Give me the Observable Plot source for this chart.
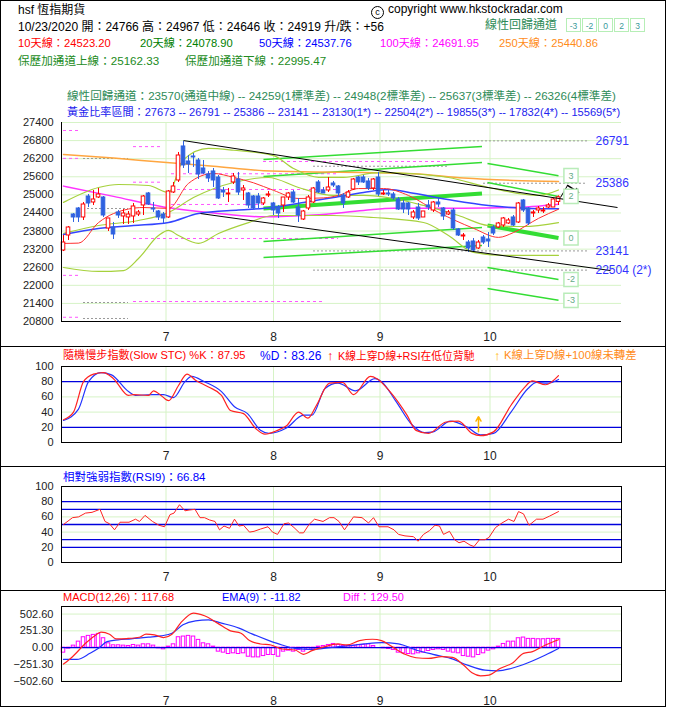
<!DOCTYPE html>
<html><head><meta charset="utf-8">
<script src="https://cdn.jsdelivr.net/npm/d3@7"></script>
<script src="https://cdn.jsdelivr.net/npm/@observablehq/plot@0.6"></script>
<style>
body{margin:0;background:#fff;}
#wrap{position:relative;width:677px;height:717px;overflow:hidden;background:#fff;font-family:"Liberation Sans","Noto Sans CJK TC",sans-serif;}
.t{position:absolute;white-space:nowrap;line-height:1.2;}
.hl{position:absolute;background:#000;}
svg{position:absolute;left:0;}
</style></head><body><div id="wrap"></div>
<script>
// ---------------- DATA ----------------
const headerTitle = "hsf 恆指期貨";
const headerQuote = "10/23/2020 開：24766 高：24967 低：24646 收：24919 升/跌：+56";
const maLabels = ["10天線：24523.20","20天線：24078.90","50天線：24537.76","100天線：24691.95","250天線：25440.86"];
const bollLabels = ["保歷加通道上線：25162.33","保歷加通道下線：22995.47"];
const regText = "線性回歸通道：23570(通道中線) -- 24259(1標準差) -- 24948(2標準差) -- 25637(3標準差) -- 26326(4標準差)";
const goldText = "黃金比率區間：27673 -- 26791 -- 25386 -- 23141 -- 23130(1*) -- 22504(2*) -- 19855(3*) -- 17832(4*) -- 15569(5*)";
const stochLabels = ["隨機慢步指數(Slow STC) %K：87.95","%D：83.26","K線上穿D線+RSI在低位背馳","K線上穿D線+100線未轉差"];
const rsiLabel = "相對強弱指數(RSI9)：66.84";
const macdLabels = ["MACD(12,26)：117.68","EMA(9)：-11.82","Diff：129.50"];
const channelKeys = ["-3","-2","0","2","3"];

const monthTickIdx = [20.5, 42, 63.3, 85.3];
const monthLabels = ["7","8","9","10"];
const mainYTicks = [20800,21400,22000,22600,23200,23800,24400,25000,25600,26200,26800,27400];

const open = [23155,23653,24349,24548,24250,24946,24747,24913,24913,23885,
23918,24416,24283,24250,24283,24349,24648,25046,24548,24449,
24349,24250,25079,25477,26605,26107,26273,26140,25875,25676,
25776,25576,25145,25013,25411,25510,25145,25046,24946,24946,
24714,24979,24714,24581,24648,24913,25079,24581,24183,24548,
24747,25411,25145,25145,25377,25278,24979,24913,25178,25576,
25576,25444,25212,25576,25013,25046,25013,24847,24714,24714,
24250,24581,24250,24648,24482,24747,24548,24349,24482,23852,
23619,23420,23454,23221,23586,23520,23918,23918,23984,24051,
24250,24084,24814,24548,24382,24482,24449,24581,24581,24766];
const high = [23653,23951,24380,24581,24747,25013,25145,25212,24946,24217,
24084,24482,24515,24449,24714,24482,24979,25079,24747,24482,
24416,25145,25411,26406,26771,26306,26372,26207,26140,25776,
25875,25643,25245,25212,25709,25742,25311,25079,24979,25046,
24913,25112,24747,24648,24913,25079,25145,24880,24482,24979,
25245,25477,25245,25576,25444,25311,25046,25145,25543,25610,
25643,25543,25543,25742,25145,25145,25079,24913,24814,24747,
24482,24714,24449,24814,24780,24880,24581,24482,24548,23885,
23719,23487,23553,23487,23653,23752,23984,24084,24250,24217,
24316,24747,24847,24581,24482,24615,24581,24714,24880,24967];
const low = [23120,23487,24084,24084,24150,24581,24648,24880,24250,23785,
23520,24217,24018,24018,24051,24283,24316,24648,24416,24150,
24051,24217,25046,25411,25875,25709,25908,25510,25676,25411,
25245,24847,24913,24747,25344,24979,24814,24548,24515,24548,
24648,24913,24316,24217,24416,24814,24714,24084,24150,24482,
24714,25046,25046,25079,25245,24913,24548,24880,25145,25311,
25377,25145,25145,24946,24979,24946,24814,24482,24382,24316,
24183,24150,24250,24482,24416,24581,24150,24316,23818,23619,
23487,23089,23089,23189,23354,23255,23653,23885,23918,24018,
23951,24051,24416,23984,24250,24382,24382,24548,24581,24646];
const close = [23420,23918,24250,24250,24681,24714,24847,25013,24316,24217,
23686,24316,24382,24349,24615,24416,24946,24681,24515,24250,
24217,25112,25278,26306,25975,26007,26240,25676,25709,25543,
25477,24880,25079,25046,25610,25079,25212,24648,24548,24714,
24880,25013,24482,24382,24913,25046,24747,24316,24449,24913,
25212,25079,25046,25245,25311,25046,24714,25079,25510,25411,
25411,25212,25510,25013,25046,25013,24880,24515,24515,24515,
24416,24217,24449,24581,24747,24681,24283,24416,23885,23653,
23653,23221,23155,23420,23420,23454,23719,24051,24217,24150,
23984,24714,24482,24051,24416,24548,24482,24648,24847,24919];

const ma10Idx = [0,3,7,10,16,21,25,30,34,38,42,47,52,55,59,64,69,75,82,87,90,95,99];
const ma10Val = [23390,23400,24080,24380,24580,24550,25380,25710,25580,25400,25150,24880,24900,24980,25210,25210,24980,24420,23890,23590,23750,24220,24523];
const ma20Idx = [0,7,15,21,26,34,41,47,54,60,66,72,79,85,92,99];
const ma20Val = [23720,23984,24150,24416,24913,25411,25576,25245,24980,24980,24880,24650,24316,23984,23950,24079];
const ma50Idx = [0,7,14,21,27,35,42,48,54,60,65,70,78,85,92,99];
const ma50Val = [23686,23885,23980,24084,24382,24500,24581,24750,24913,25080,25180,25050,24814,24650,24560,24538];
const ma100Idx = [0,10,20,30,40,50,60,66,80,90,99];
const ma100Val = [25290,24950,24600,24400,24270,24330,24480,24560,24560,24580,24692];
const ma250Idx = [0,10,20,30,40,50,60,70,80,90,99];
const ma250Val = [26340,26220,26080,25950,25800,25760,25740,25700,25560,25480,25441];
const bollUpIdx = [0,7,11,17,21,24,29,34,42,46,51,56,63,70,77,85,95,99];
const bollUpVal = [24750,25245,25344,25310,25080,26170,26540,26480,26300,25875,25580,25580,25740,25700,25576,25245,24980,25162];
const bollLowIdx = [0,7,12,15,19,21,23,27,31,37,42,54,62,72,77,82,88,99];
const bollLowVal = [22590,22460,22490,22890,23650,23820,23650,23390,23720,24080,24316,24316,24250,24084,23653,23090,22990,22995];

// regression channel segments (levels 3,2,0,-2,-3)
const regAIdx = [40, 83.7];
const regAStart = [26173, 25610, 24548, 23454, 22923];
const regAEnd = [26605, 26074, 25046, 23918, 23321];
const regCIdx = [84.8, 99];
const regCStart = [26041, 25411, 23984, 22591, 21895];
const regCEnd = [25637, 24948, 23570, 22192, 21503];
const regLevelNames = ["3","2","0","-2","-3"];
const regBoxIdx = 101.5;

const trendUpIdx = [24, 110.8], trendUpVal = [26800, 24580];
const trendLowIdx = [27.4, 109.4], trendLowVal = [24380, 22490];
const tailIdx = [99.4, 100.8, 103], tailVal = [24913, 25311, 25079];

const fibLabelText = ["26791","25386","23141","22504 (2*)"];
const fibLabelVal = [26791, 25386, 23141, 22504];
const fibLabelIdx = 106.4;

const grayVal  = [26207, 24548, 21430, 20900, 26791, 25950, 25386, 23141, 22504];
const grayFrom = [4, 4, 4, 4, 50, 50, 84, 50, 50];
const grayTo   = [13, 13, 13, 13, 105, 77, 104.5, 105, 105];
const pinkVal  = [27135, 26210, 22330, 20940, 26600, 25420, 23553, 21463, 26107, 25700, 25178, 24681];
const pinkFrom = [0, 0, 0, 0, 14, 14, 14, 14, 40, 21.6, 21.6, 21.6];
const pinkTo   = [3, 3, 3, 3, 19.4, 19.4, 55, 52, 77, 55, 55, 40];

const kIdx = [0,2,4,6,8,10,13,14,17,18,19.5,21,23,24.7,26.4,29,31.6,33.4,36,38.5,40.3,42.8,44.6,47,48.9,50.6,53.2,55.8,58,61.4,62.7,65.3,68.7,70.5,73,76.5,79,81.7,83.4,86,89.5,92,93.8,96.4,99];
const kVal = [30,40,80,90,92,84,62,63,62,68,62,55,75,90,82,73,62,42,38,18,11,16,22,40,32,49,78,79,63,87,84,67,36,16,12,27,28,12,9,14,49,71,81,76,88];
const dIdx = [0,3,5,7.5,9.6,13,14.4,17.8,20,22,24.3,25.6,28.2,31.6,34.2,36.8,39.4,41.1,44.6,48,49.7,52.3,54.9,58.4,62.3,63.6,66.6,69.6,72.2,73.9,77.4,80.8,83.4,86,89.5,92.9,94.6,96.8,99];
const dVal = [29,44,80,92,89,67,62,63,63,59,80,87,80,67,47,38,16,12,19,36,36,71,78,68,84,80,53,24,13,14,28,20,10,12,40,71,79,78,83];
const stochSignalIdx = 83, stochSignalFrom = 14, stochSignalTo = 34;

const rsiIdx = [0,1.8,3,4.4,5.7,7.3,8.3,9.2,10.2,11.3,13.1,14.4,15.2,16.3,17.8,19.1,20.2,21.3,22.1,23.2,24.3,25.1,26.3,27.3,28.2,29.2,30.3,31.2,32.1,33.2,34.2,35.1,36,37.2,38.1,39.4,40.9,41.8,42.8,44.1,45,46.1,47.2,48,49.1,50.2,51.9,53.2,54.1,55.1,56.2,58,59.7,61,62,63.1,64.9,66.1,67,68.3,70,70.9,72,73.2,74.3,75.2,76,77.2,78.2,79.1,80.1,81.3,82.1,83.2,84.3,85.1,86.4,87.7,89,90.1,91,92,93.1,94.6,95.9,97.2,99];
const rsiVal = [50,59,60,65,66,70,54,51,43,53,53,57,54,62,54,49,47,63,65,76,68,69,70,59,59,56,54,43,48,45,57,48,49,40,41,44,47,40,37,51,52,46,39,39,50,57,54,59,59,54,43,60,59,52,59,47,47,43,37,35,34,28,37,42,49,48,37,41,30,26,28,23,21,30,30,33,46,52,57,54,67,64,49,57,57,61,67];
const rsiBlueLevels = [20,30,50,70,80];

const macdIdx = [0,1.8,4.4,6.2,7.5,9.2,10.5,12.6,15.2,16.5,18.2,20,21.7,23.4,26,28.2,30.8,33.4,35.5,37.2,39.4,41.5,43.7,46.3,48,49.7,52.3,54.9,56.7,59.2,61.8,63.6,65.7,68.3,70.5,73,75.6,77.8,80,81.7,83.4,85.1,87.3,89.9,92,93.8,96.4,99];
const macdVal = [-246,-136,65,176,231,201,131,136,156,201,191,151,201,367,518,477,367,251,216,106,55,40,-20,-35,-100,-45,15,55,40,106,126,106,15,-100,-151,-161,-136,-146,-261,-377,-422,-412,-312,-226,-85,-60,40,118];
const emaIdx = [0,2.7,5.3,7,8.7,10.9,13.5,17,19.5,21.7,23.9,26.4,29,31.6,35.1,37.7,41.1,43.7,46.3,49.7,53.2,56.7,60.1,63.6,67,70.5,73.9,77.4,80.8,84.3,86.9,89.5,92.9,96.4,99];
const emaVal = [-176,-176,-85,-10,90,116,131,156,176,216,342,402,417,367,292,206,106,40,-10,-25,0,25,55,75,55,-35,-100,-161,-261,-337,-347,-312,-226,-110,-12];
const diffVal = [-75,-15,30,90,156,176,191,206,141,65,35,35,30,25,40,30,50,50,30,-10,
-25,15,50,156,166,176,166,116,65,50,15,-60,-75,-95,-85,-95,-85,-136,-146,-146,
-126,-110,-110,-136,-60,-45,-60,-35,-60,-35,-25,15,25,40,55,40,25,25,30,40,
40,50,25,0,-10,-20,-35,-75,-85,-95,-100,-85,-75,-50,-35,-25,-35,-60,-75,-85,
-126,-136,-146,-110,-85,-45,-25,15,55,90,90,141,151,131,131,126,126,131,131,130];
const macdTicks = [-502.6,-251.3,0,251.3,502.6];

// ---------------- RENDER ----------------
const FONT = '"Liberation Sans","Noto Sans CJK TC",sans-serif';
const GRID = "#d6f3c6";
const UP = "#ff0000", DOWN = "#2f62e0";
const XDOM = [-0.4, 111.6];
const wrap = document.getElementById("wrap");
const pts = (xs, ys) => xs.map((x, k) => ({x, y: ys[k]}));
const monthFmt = d => monthLabels[monthTickIdx.indexOf(d)];
const plain = d => String(d);
const baseStyle = {fontFamily: FONT, fontSize: "11px", color: "#222", background: "transparent", overflow: "visible"};

function place(svg, top) { svg.style.position = "absolute"; svg.style.left = "0px"; svg.style.top = top + "px"; wrap.appendChild(svg); return svg; }
function addText(str, left, yc, color, size = 12, extra = {}) {
  const d = document.createElement("div");
  d.className = "t"; d.textContent = str;
  d.style.left = left + "px"; d.style.top = (yc - size * 0.6) + "px";
  d.style.color = color; d.style.fontSize = size + "px";
  Object.assign(d.style, extra);
  wrap.appendChild(d); return d;
}

const candles = open.map((o, i) => ({i, o, h: high[i], l: low[i], c: close[i]}));
const ups = candles.filter(d => d.c >= d.o), downs = candles.filter(d => d.c < d.o);
const segs = (from, to, vals) => vals.map((v, k) => ({x1: from[k], x2: to[k], y: v}));
const graySegs = segs(grayFrom, grayTo, grayVal);
const pinkSegs = segs(pinkFrom, pinkTo, pinkVal);
const regSegs = [];
regLevelNames.forEach((n, k) => {
  regSegs.push({x1: regAIdx[0], x2: regAIdx[1], y1: regAStart[k], y2: regAEnd[k], w: n === "0" ? 4 : 1.5});
  regSegs.push({x1: regCIdx[0], x2: regCIdx[1], y1: regCStart[k], y2: regCEnd[k], w: n === "0" ? 4 : 1.5});
});
const boxes = regLevelNames.map((n, k) => ({t: n, y: regCEnd[k]}));
const fibLabels = fibLabelText.map((t, k) => ({t, y: fibLabelVal[k]}));

const main = Plot.plot({
  width: 665, height: 230, marginLeft: 61, marginRight: 44, marginTop: 7, marginBottom: 24,
  x: {domain: XDOM}, y: {domain: [20800, 27400]},
  style: baseStyle,
  marks: [
    Plot.ruleY(mainYTicks, {stroke: GRID}),
    Plot.ruleX(monthTickIdx, {stroke: GRID}),
    Plot.axisY({ticks: mainYTicks, tickSize: 0, tickPadding: 8, label: null, fill: "#222", fontSize: 11, tickFormat: plain}),
    Plot.axisX({ticks: monthTickIdx, tickSize: 0, tickPadding: 11, label: null, tickFormat: monthFmt, fill: "#222", fontSize: 12}),
    Plot.ruleY(graySegs, {y: "y", x1: "x1", x2: "x2", stroke: "#999", strokeDasharray: "2,2"}),
    Plot.ruleY(pinkSegs, {y: "y", x1: "x1", x2: "x2", stroke: "#ff55ff", strokeDasharray: "3,3"}),
    Plot.link(regSegs, {x1: "x1", x2: "x2", y1: "y1", y2: "y2", stroke: "#33dd33", strokeWidth: "w"}),
    Plot.line(pts(ma250Idx, ma250Val), {x: "x", y: "y", stroke: "#ffa640", strokeWidth: 1.5, curve: "monotone-x"}),
    Plot.line(pts(ma100Idx, ma100Val), {x: "x", y: "y", stroke: "#ff33ff", strokeWidth: 1.5, curve: "monotone-x"}),
    Plot.line(pts(bollUpIdx, bollUpVal), {x: "x", y: "y", stroke: "#a6d13c", strokeWidth: 1.2, curve: "monotone-x"}),
    Plot.line(pts(bollLowIdx, bollLowVal), {x: "x", y: "y", stroke: "#a6d13c", strokeWidth: 1.2, curve: "monotone-x"}),
    Plot.line(pts(ma20Idx, ma20Val), {x: "x", y: "y", stroke: "#a6d13c", strokeWidth: 1.2, curve: "monotone-x"}),
    Plot.line(pts(ma50Idx, ma50Val), {x: "x", y: "y", stroke: "#3344ff", strokeWidth: 1.5, curve: "monotone-x"}),
    Plot.line(pts(ma10Idx, ma10Val), {x: "x", y: "y", stroke: "#ff3030", strokeWidth: 1, curve: "monotone-x"}),
    Plot.ruleX(ups, {x: "i", y1: "l", y2: "h", stroke: UP}),
    Plot.ruleX(downs, {x: "i", y1: "l", y2: "h", stroke: DOWN}),
    Plot.rect(ups, {x1: d => d.i - 0.36, x2: d => d.i + 0.36, y1: "o", y2: "c", fill: "white", stroke: UP}),
    Plot.rect(downs, {x1: d => d.i - 0.36, x2: d => d.i + 0.36, y1: "o", y2: "c", fill: DOWN, stroke: DOWN}),
    Plot.link([0], {x1: () => trendUpIdx[0], x2: () => trendUpIdx[1], y1: () => trendUpVal[0], y2: () => trendUpVal[1], stroke: "#000"}),
    Plot.link([0], {x1: () => trendLowIdx[0], x2: () => trendLowIdx[1], y1: () => trendLowVal[0], y2: () => trendLowVal[1], stroke: "#000"}),
    Plot.link([0], {x1: () => tailIdx[0], x2: () => tailIdx[1], y1: () => tailVal[0], y2: () => tailVal[1], stroke: "#000"}),
    Plot.arrow([0], {x1: () => tailIdx[1], x2: () => tailIdx[2], y1: () => tailVal[1], y2: () => tailVal[2], stroke: "#000", headLength: 6}),
    Plot.dot(boxes, {x: () => regBoxIdx, y: "y", symbol: "square", r: 8, stroke: "#b9ecb9", fill: "white"}),
    Plot.text(boxes, {x: () => regBoxIdx, y: "y", text: "t", fill: "#66aa88", fontSize: 9}),
    Plot.text(fibLabels, {x: () => fibLabelIdx, y: "y", text: "t", textAnchor: "start", fill: "#3333ff", fontSize: 12}),
    Plot.ruleY([20800], {stroke: "#000"}),
    Plot.ruleX([XDOM[0]], {stroke: "#000"})
  ]
});
place(main, 115);

function subAxes(yTicks, yFmt, pad) {
  return [
    Plot.axisY({ticks: yTicks, tickSize: 0, tickPadding: 8, label: null, fill: "#222", fontSize: 11, tickFormat: yFmt}),
    Plot.axisX({ticks: monthTickIdx, tickSize: 0, tickPadding: pad, label: null, tickFormat: monthFmt, fill: "#222", fontSize: 12})
  ];
}

const stoch = Plot.plot({
  width: 665, height: 120, marginLeft: 61, marginRight: 44, marginTop: 20, marginBottom: 24,
  x: {domain: XDOM}, y: {domain: [0, 100]}, style: baseStyle,
  marks: [
    Plot.ruleY([40, 60], {stroke: GRID}),
    Plot.ruleX(monthTickIdx, {stroke: GRID}),
    Plot.ruleY([20, 80], {stroke: "#0000dd", strokeWidth: 1.3}),
    ...subAxes([0, 20, 40, 60, 80, 100], plain, 9),
    Plot.line(pts(dIdx, dVal), {x: "x", y: "y", stroke: "#2233ff", strokeWidth: 1.2, curve: "monotone-x"}),
    Plot.line(pts(kIdx, kVal), {x: "x", y: "y", stroke: "#ff2222", strokeWidth: 1.2, curve: "monotone-x"}),
    Plot.arrow([0], {x1: () => stochSignalIdx, x2: () => stochSignalIdx, y1: () => stochSignalFrom, y2: () => stochSignalTo, stroke: "#ffb400", strokeWidth: 1.5, headLength: 6}),
    Plot.frame({stroke: "#000"})
  ]
});
place(stoch, 346);

const rsi = Plot.plot({
  width: 665, height: 124, marginLeft: 61, marginRight: 44, marginTop: 20, marginBottom: 28,
  x: {domain: XDOM}, y: {domain: [0, 100]}, style: baseStyle,
  marks: [
    Plot.ruleY([40, 60], {stroke: GRID}),
    Plot.ruleX(monthTickIdx, {stroke: GRID}),
    Plot.ruleY(rsiBlueLevels, {stroke: "#0000dd", strokeWidth: 1.3}),
    ...subAxes([0, 20, 40, 60, 80, 100], plain, 10),
    Plot.line(pts(rsiIdx, rsiVal), {x: "x", y: "y", stroke: "#ff2222", strokeWidth: 1}),
    Plot.frame({stroke: "#000"})
  ]
});
place(rsi, 466);

const diffBars = diffVal.map((v, i) => ({i, v}));
const macd = Plot.plot({
  width: 665, height: 115, marginLeft: 61, marginRight: 44, marginTop: 15, marginBottom: 25,
  x: {domain: XDOM}, y: {domain: [-507, 616]}, style: baseStyle,
  marks: [
    Plot.ruleY(macdTicks, {stroke: GRID}),
    Plot.ruleX(monthTickIdx, {stroke: GRID}),
    ...subAxes(macdTicks, d3.format(".2f"), 15),
    Plot.rect(diffBars, {x1: d => d.i - 0.35, x2: d => d.i + 0.35, y1: () => 0, y2: "v", fill: "white", stroke: "#ff00ff"}),
    Plot.ruleY([0], {stroke: "#0000dd", strokeWidth: 1.3}),
    Plot.line(pts(emaIdx, emaVal), {x: "x", y: "y", stroke: "#2233ff", strokeWidth: 1.2, curve: "monotone-x"}),
    Plot.line(pts(macdIdx, macdVal), {x: "x", y: "y", stroke: "#ff2222", strokeWidth: 1.2, curve: "monotone-x"}),
    Plot.frame({stroke: "#000"})
  ]
});
place(macd, 591);

// ---------- texts ----------
addText(headerTitle, 18, 10, "#000", 12);
addText(headerQuote, 18, 27, "#000", 12);
const maColors = ["#ff0000", "#008000", "#0000ff", "#ff00ff", "#ff8c1a"];
const maLeft = [18, 140, 259, 380, 499];
maLabels.forEach((s, k) => addText(s, maLeft[k], 44, maColors[k], 11.2));
addText(bollLabels[0], 18, 61, "#228b22", 11.6);
addText(bollLabels[1], 185, 61, "#228b22", 11.6);
const cp = addText("", 371, 9, "#000", 12);
cp.innerHTML = '<span style="display:inline-block;width:11px;height:11px;border:1px solid #000;border-radius:50%;font-size:9px;line-height:11px;text-align:center;vertical-align:-2px;margin-right:4px">c</span>copyright www.hkstockradar.com';
addText("線性回歸通道", 485, 25, "#2e8b57", 12);
channelKeys.forEach((k, j) => {
  const b = addText(k, 566 + j * 16, 26, "#3a9a9a", 8.5);
  Object.assign(b.style, {width: "15px", height: "14px", top: "18px", lineHeight: "14px", textAlign: "center", border: "1px solid #b6eeb6", boxSizing: "border-box"});
});
addText(regText, 67, 96, "#2e8b57", 11.6);
addText(goldText, 67, 113, "#2222ee", 11.1, {background: "#fff", paddingBottom: "1px"});

addText(stochLabels[0], 63, 356, "#ff0000", 11.1);
addText(stochLabels[1], 260, 356, "#0000ff", 12);
addText("↑", 327, 356, "#ff0000", 13, {fontWeight: "bold"});
addText(stochLabels[2], 338, 356, "#ff0000", 10.8);
addText("↑", 494, 356, "#ffb400", 13, {fontWeight: "bold"});
addText(stochLabels[3], 504, 356, "#ff8c1a", 11.4);
addText(rsiLabel, 63, 478, "#0000ff", 11.5);
addText(macdLabels[0], 63, 598, "#ff0000", 11);
addText(macdLabels[1], 222, 598, "#0000ff", 11);
addText(macdLabels[2], 343, 598, "#ff00ff", 11);

// frame & separators
function hline(top) { const d = document.createElement("div"); d.className = "hl"; Object.assign(d.style, {left: "0px", top: top + "px", width: "666px", height: "1px"}); wrap.appendChild(d); }
const fr = document.createElement("div");
Object.assign(fr.style, {position: "absolute", left: "0px", top: "0px", width: "666px", height: "707px", border: "1px solid #000", boxSizing: "border-box"});
wrap.appendChild(fr);
[346, 466, 590].forEach(hline);
</script></body></html>
